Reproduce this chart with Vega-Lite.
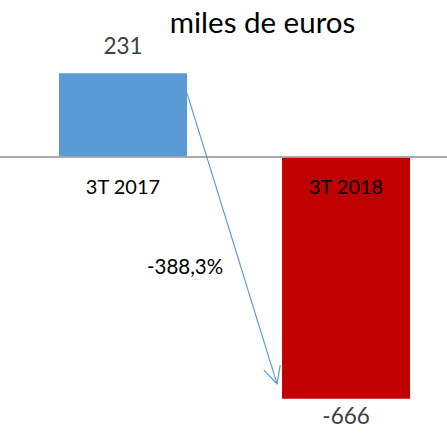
{
  "$schema": "https://vega.github.io/schema/vega-lite/v6.json",
  "width": 447,
  "height": 438,
  "autosize": "none",
  "padding": 0,
  "config": {"view": {"stroke": null}, "font": "Lato"},
  "title": {"text": "miles de euros", "fontSize": 29.5, "fontWeight": "normal", "color": "#000000", "font": "Lato", "anchor": "middle", "dx": 39, "dy": 43},
  "datasets": {
    "barras": [
      {"periodo": "3T 2017", "valor": 231, "texto": "231"},
      {"periodo": "3T 2018", "valor": -666, "texto": "-666"}
    ],
    "flecha": [
      {"desde": "3T 2017", "hasta": "3T 2018", "y_inicio": 176, "y_fin": -625, "etiqueta": "-388,3%", "y_etiqueta": -306}
    ]
  },
  "encoding": {},
  "layer": [
    {
      "data": {"name": "barras"},
      "mark": {"type": "bar"},
      "encoding": {
        "x": {"field": "periodo", "type": "nominal", "axis": null,
              "scale": {"type": "band", "domain": ["3T 2017", "3T 2018"], "paddingInner": 0.426, "paddingOuter": 0.215, "align": 0.615}},
        "y": {"field": "valor", "type": "quantitative", "axis": null, "scale": {"domain": [-774, 432.5], "nice": false, "zero": false}},
        "color": {"field": "periodo", "type": "nominal", "legend": null, "scale": {"domain": ["3T 2017", "3T 2018"], "range": ["#5b9bd5", "#c00000"]}}
      }
    },
    {
      "data": {"name": "barras"},
      "mark": {"type": "rule", "color": "#a6a6a6", "strokeWidth": 1.5},
      "encoding": {"y": {"datum": 0, "type": "quantitative"}}
    },
    {
      "data": {"name": "barras"},
      "transform": [{"filter": "datum.valor > 0"}],
      "mark": {"type": "text", "fontSize": 22.5, "color": "#404040", "baseline": "middle", "align": "center", "dy": -26},
      "encoding": {
        "x": {"field": "periodo", "type": "nominal"},
        "y": {"field": "valor", "type": "quantitative"},
        "text": {"field": "texto"}
      }
    },
    {
      "data": {"name": "barras"},
      "transform": [{"filter": "datum.valor < 0"}],
      "mark": {"type": "text", "fontSize": 22.5, "color": "#404040", "baseline": "middle", "align": "center", "dy": 18},
      "encoding": {
        "x": {"field": "periodo", "type": "nominal"},
        "y": {"field": "valor", "type": "quantitative"},
        "text": {"field": "texto"}
      }
    },
    {
      "data": {"name": "barras"},
      "mark": {"type": "text", "fontSize": 20, "color": "#000000", "baseline": "middle", "align": "center", "dy": 31},
      "encoding": {
        "x": {"field": "periodo", "type": "nominal"},
        "y": {"datum": 0, "type": "quantitative"},
        "text": {"field": "periodo"}
      }
    },
    {
      "data": {"name": "flecha"},
      "mark": {"type": "rule", "color": "#5b9bd5", "strokeWidth": 1.2, "x2Offset": -5},
      "encoding": {
        "x": {"field": "desde", "type": "nominal", "bandPosition": 1},
        "x2": {"field": "hasta", "bandPosition": 0},
        "y": {"field": "y_inicio", "type": "quantitative"},
        "y2": {"field": "y_fin"}
      }
    },
    {
      "data": {"name": "flecha"},
      "mark": {"type": "point", "shape": "M-0.45,-0.9L0,0L0.45,-0.9", "filled": false, "stroke": "#5b9bd5", "strokeWidth": 1.2, "size": 1444, "angle": -17, "xOffset": -5, "opacity": 1},
      "encoding": {
        "x": {"field": "hasta", "type": "nominal", "bandPosition": 0},
        "y": {"field": "y_fin", "type": "quantitative"}
      }
    },
    {
      "data": {"name": "flecha"},
      "mark": {"type": "text", "fontSize": 20.5, "color": "#000000", "baseline": "middle", "align": "center", "dx": -2},
      "encoding": {
        "x": {"field": "desde", "type": "nominal", "bandPosition": 1},
        "y": {"field": "y_etiqueta", "type": "quantitative"},
        "text": {"field": "etiqueta"}
      }
    }
  ]
}
